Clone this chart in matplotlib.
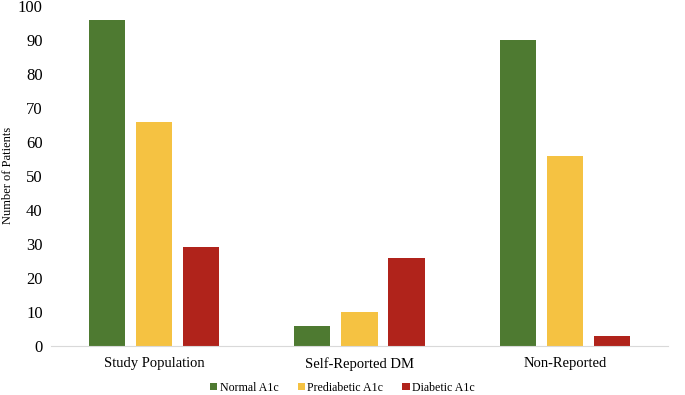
import matplotlib
matplotlib.use("Agg")
import matplotlib.pyplot as plt
import numpy as np

plt.rcParams['font.family'] = ['Liberation Serif', 'DejaVu Serif']

groups = ['Study Population', 'Self-Reported DM', 'Non-Reported']
series = ['Normal A1c', 'Prediabetic A1c', 'Diabetic A1c']
normal = [96, 6, 90]
prediabetic = [66, 10, 56]
diabetic = [29, 26, 3]
colors = ['#4E7A31', '#F5C242', '#B0231B']

fig = plt.figure(figsize=(6.85, 3.95), dpi=100)
ax = fig.add_axes([0.0745, 0.124, 0.9005, 0.861])

x = np.arange(len(groups))
w = 0.176
step = 0.229
for i, (vals, name) in enumerate(zip([normal, prediabetic, diabetic], series)):
    ax.bar(x + (i - 1) * step, vals, w, color=colors[i], label=name)

ax.set_xlim(-0.5, 2.5)
ax.set_ylim(0, 100)
ax.set_yticks(range(0, 101, 10))
ax.set_xticks(x)
ax.set_xticklabels(groups, fontsize=10.5)
ax.tick_params(axis='y', labelsize=12, length=0, pad=6)
ax.tick_params(axis='x', length=0, pad=8)
for s in ['top', 'right', 'left']:
    ax.spines[s].set_visible(False)
ax.spines['bottom'].set_color('#d9d9d9')

# y label placed in figure coords so it isn't clipped
fig.text(0.011, 0.555, 'Number of Patients', rotation=90, fontsize=9,
         ha='center', va='center')

handles, labels = ax.get_legend_handles_labels()
fig.legend(handles, labels, loc='center', bbox_to_anchor=(0.5, 0.018), ncol=3,
           frameon=False, fontsize=8.6, handlelength=0.6, handleheight=0.6,
           handletextpad=0.2, columnspacing=1.6, borderpad=0)

fig.savefig('out.png', dpi=100)
